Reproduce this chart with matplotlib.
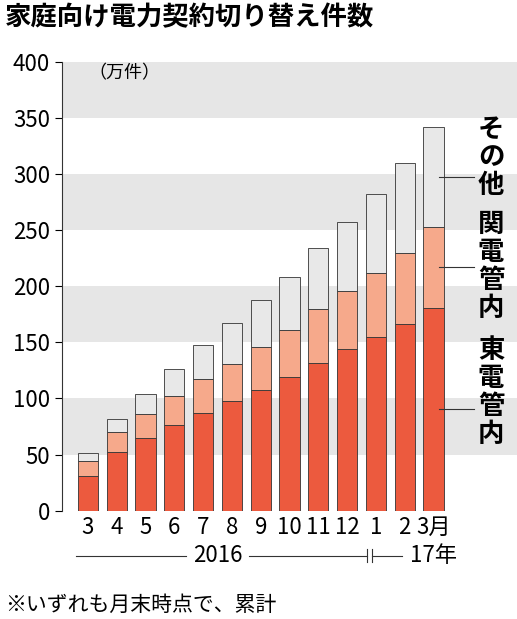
import matplotlib
matplotlib.use("Agg")
import matplotlib.pyplot as plt
import numpy as np

plt.rcParams['font.family'] = ['Noto Sans CJK JP', 'DejaVu Sans']

months = ["3", "4", "5", "6", "7", "8", "9", "10", "11", "12", "1", "2", "3月"]
east = [31, 52, 65, 76, 87, 98, 108, 119, 132, 144, 155, 166, 181]
kansai_cum = [44, 70, 86, 102, 117, 131, 146, 161, 180, 196, 212, 230, 253]
total = [51, 82, 104, 126, 148, 167, 188, 208, 234, 257, 282, 310, 342]

east = np.array(east); kc = np.array(kansai_cum); tot = np.array(total)
x = np.arange(len(months))

fig = plt.figure(figsize=(5.17, 6.19), dpi=100)
ax = fig.add_axes([0.12, 0.175, 0.88, 0.725])
for lo in (50, 150, 250, 350):
    ax.axhspan(lo, lo + 50, color="#e6e6e6", lw=0, zorder=0)
w = 0.7
ax.bar(x, east, w, color="#ec5a3e", edgecolor="#333333", lw=0.6, zorder=2)
ax.bar(x, kc - east, w, bottom=east, color="#f6a98b", edgecolor="#333333", lw=0.6, zorder=2)
ax.bar(x, tot - kc, w, bottom=kc, color="#e8e8e8", edgecolor="#333333", lw=0.6, zorder=2)

ax.set_xlim(-0.9, 14.9)
ax.set_ylim(0, 400)
ax.set_yticks(range(0, 401, 50))
ax.tick_params(axis='y', labelsize=16, length=5, direction='out')
ax.set_xticks(x)
ax.set_xticklabels(months, fontsize=16)
ax.tick_params(axis='x', length=0, pad=4)
for s in ("top", "right"):
    ax.spines[s].set_visible(False)
ax.spines["bottom"].set_visible(False)
ax.spines["left"].set_color("#333333")
ax.text(0.0, 398, "（万件）", fontsize=13, va="top", ha="left")

labels = [((tot[-1] + kc[-1]) / 2, "そ\nの\n他", 315),
          ((kc[-1] + east[-1]) / 2, "関\n電\n管\n内", 218),
          (east[-1] / 2, "東\n電\n管\n内", 105)]
for yv, txt, ty in labels:
    ax.plot([12.2, 13.4], [yv, yv], color="#333333", lw=0.8, zorder=3)
    ax.text(14.0, ty, txt, fontsize=19, fontweight="bold", ha="center", va="center", linespacing=1.05)

tr = ax.get_xaxis_transform()
yy = -0.1
ax.text(4.5, yy, "2016", fontsize=16, ha="center", va="center", transform=tr)
ax.plot([-0.4, 3.4], [yy, yy], color="#333333", lw=0.8, transform=tr, clip_on=False)
ax.plot([5.6, 9.7], [yy, yy], color="#333333", lw=0.8, transform=tr, clip_on=False)
ax.plot([9.7, 9.7], [yy - 0.015, yy + 0.015], color="#333333", lw=0.8, transform=tr, clip_on=False)
ax.plot([9.85, 9.85], [yy - 0.015, yy + 0.015], color="#333333", lw=0.8, transform=tr, clip_on=False)
ax.plot([9.85, 10.9], [yy, yy], color="#333333", lw=0.8, transform=tr, clip_on=False)
ax.text(12.0, yy, "17年", fontsize=16, ha="center", va="center", transform=tr)

fig.text(0.01, 0.972, "家庭向け電力契約切り替え件数", fontsize=19, fontweight="bold", ha="left", va="center")
fig.text(0.01, 0.022, "※いずれも月末時点で、累計", fontsize=15, ha="left", va="center")

fig.savefig("out.png", dpi=100)
